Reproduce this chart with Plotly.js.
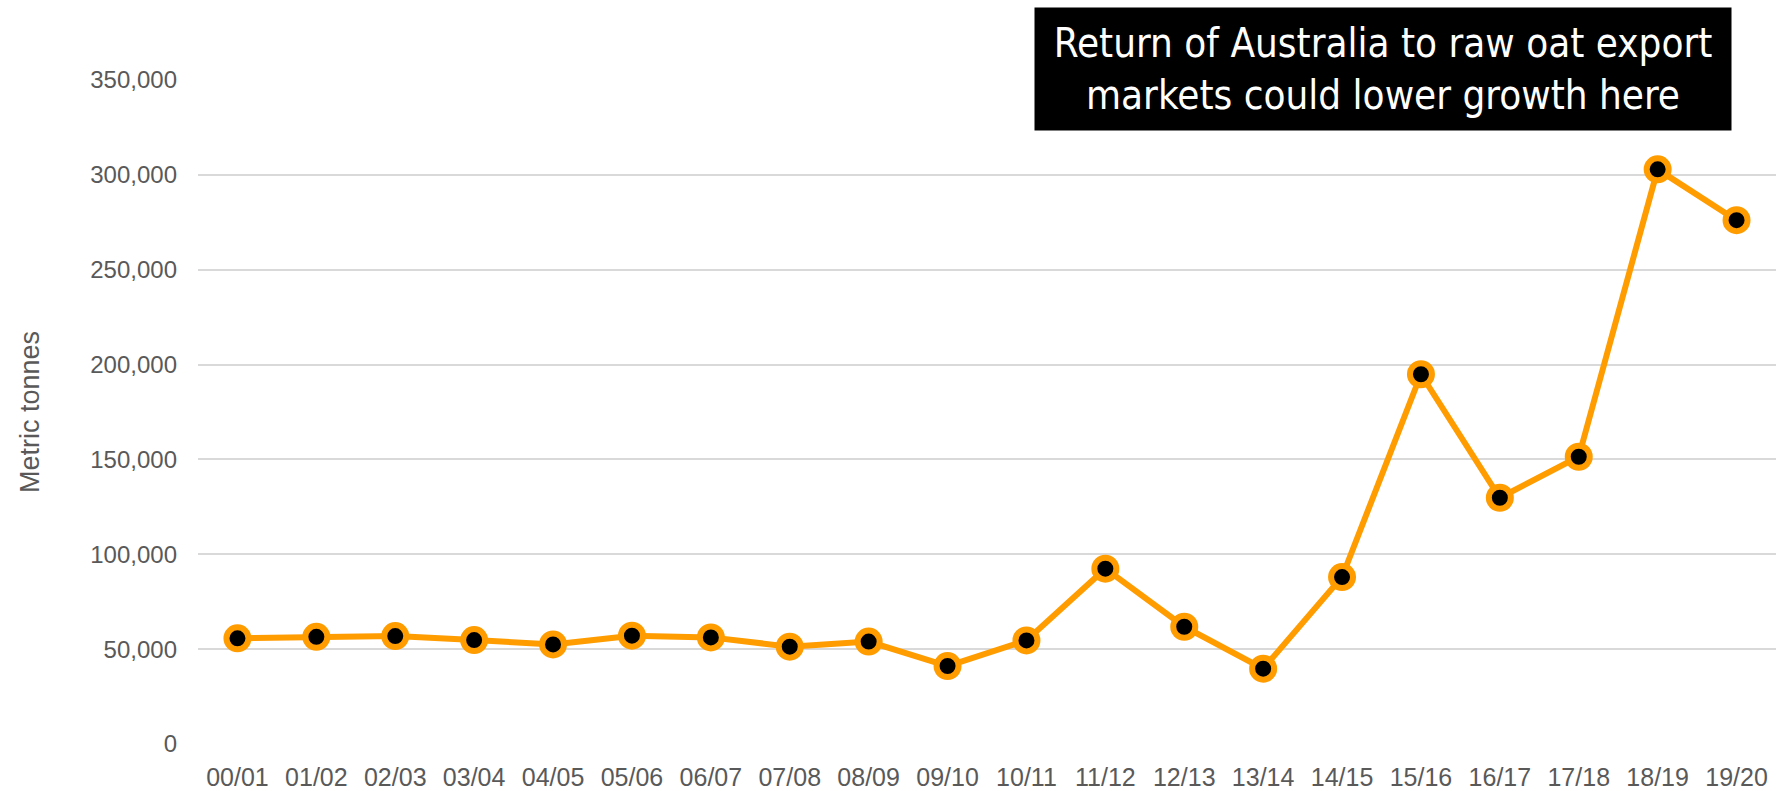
<!DOCTYPE html>
<html>
<head>
<meta charset="utf-8">
<script src="https://cdn.plot.ly/plotly-3.0.1.min.js"></script>
<style>html,body{margin:0;padding:0;background:#fff;}#chart{width:1789px;height:791px;}</style>
</head>
<body>
<div id="chart"></div>
<script>
const seasons = ["00/01","01/02","02/03","03/04","04/05","05/06","06/07","07/08","08/09","09/10","10/11","11/12","12/13","13/14","14/15","15/16","16/17","17/18","18/19","19/20"];
const tonnes = [55700,56500,56900,54800,52500,57100,56200,51300,54000,41100,54600,92400,61800,39700,88000,194900,129800,151400,302900,276100];
const yTicks = [0,50000,100000,150000,200000,250000,300000,350000];
const yTickLabels = ["0","50,000","100,000","150,000","200,000","250,000","300,000","350,000"];
const yTitle = "Metric tonnes";
const noteText = "Return of Australia to raw oat export<br>markets could lower growth here";

const fam = "Liberation Sans, Arial, sans-serif";

Plotly.newPlot("chart", [{
  x: seasons,
  y: tonnes,
  type: "scatter",
  mode: "lines+markers",
  line: {color: "#ff9c00", width: 6},
  marker: {color: "#000000", size: 22, line: {color: "#ff9c00", width: 6}},
  hoverinfo: "x+y"
}], {
  width: 1789, height: 791,
  margin: {l: 198, r: 13, t: 80, b: 47},
  paper_bgcolor: "#ffffff", plot_bgcolor: "#ffffff",
  showlegend: false,
  xaxis: {
    type: "category",
    range: [-0.5, 19.5],
    tickfont: {family: fam, size: 25, color: "#595959"},
    showgrid: false, zeroline: false, showline: false,
    ticks: "", ticklen: 0,
    ticklabelstandoff: 16
  },
  yaxis: {
    range: [0, 350000],
    tickvals: yTicks, ticktext: yTickLabels,
    tickfont: {family: fam, size: 24, color: "#595959"},
    showgrid: true, gridcolor: "#d9d9d9", gridwidth: 1.5,
    zeroline: false, showline: false, ticks: "",
    ticklabelstandoff: 20,
    title: {text: yTitle, font: {family: fam, size: 27, color: "#595959"}, standoff: 42}
  },
  annotations: [{
    xref: "paper", yref: "paper",
    x: 0.751, y: 1.0166, xanchor: "center", yanchor: "middle",
    text: noteText, showarrow: false,
    bgcolor: "#000000", borderpad: 2,
    width: 692, height: 118, align: "center", valign: "middle",
    font: {family: "Liberation Sans Narrow, DejaVu Sans Condensed, sans-serif", size: 40, color: "#ffffff"}
  }]
}, {displayModeBar: false});
</script>
</body>
</html>
